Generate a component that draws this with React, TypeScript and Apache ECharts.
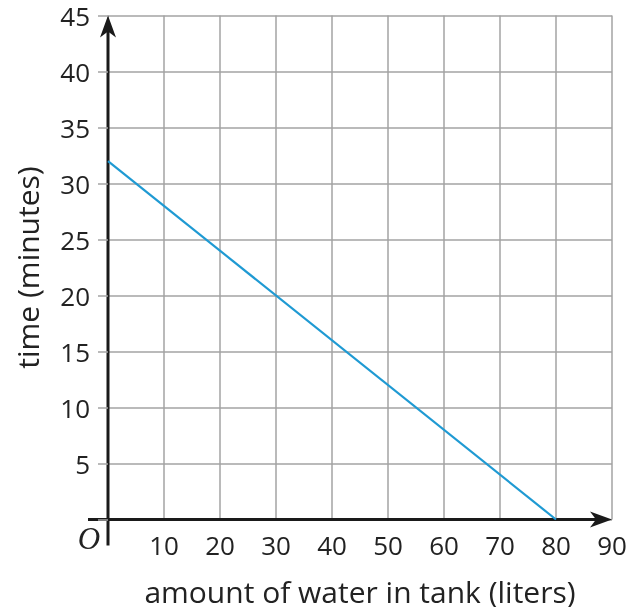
import React, { useEffect, useRef } from "react";
import * as echarts from "echarts";

const xName = "amount of water in tank (liters)";
const yName = "time (minutes)";
const xTicks = [0, 10, 20, 30, 40, 50, 60, 70, 80, 90];
const yTicks = [0, 5, 10, 15, 20, 25, 30, 35, 40, 45];
const waterLiters = [0, 80];
const timeMinutes = [32, 0];

const FONT = "'Open Sans', sans-serif";
const GRID = "#a3a3a3";

export default function App() {
  const ref = useRef<HTMLDivElement>(null);
  useEffect(() => {
    if (!ref.current) return;
    const chart = echarts.init(ref.current, null, { renderer: "svg" });
    const xMax = xTicks[xTicks.length - 1];
    const yMax = yTicks[yTicks.length - 1];
    chart.setOption({
      animation: false,
      grid: {
        left: 108,
        right: 17,
        top: 15.5,
        bottom: 87.5,
        containLabel: false,
        outerBoundsMode: "none",
      },
      xAxis: {
        type: "value",
        min: 0,
        max: xMax,
        interval: 10,
        axisLine: { show: false },
        axisTick: { show: false },
        splitLine: { show: true, lineStyle: { color: GRID, width: 1.5 } },
        axisLabel: {
          margin: 12,
          fontSize: 26,
          lineHeight: 26,
          color: "#222",
          fontFamily: FONT,
          formatter: (v: number) => (v === 0 ? "" : String(v)),
        },
        name: xName,
        nameLocation: "middle",
        nameGap: 57,
        nameTextStyle: { fontSize: 30, lineHeight: 30, color: "#222", fontFamily: FONT },
      },
      yAxis: {
        type: "value",
        min: 0,
        max: yMax,
        interval: 5,
        axisLine: { show: false },
        axisTick: { show: true, length: 10, lineStyle: { color: GRID, width: 1.5 } },
        splitLine: { show: true, lineStyle: { color: GRID, width: 1.5 } },
        axisLabel: {
          margin: 18,
          fontSize: 26,
          lineHeight: 26,
          color: "#222",
          fontFamily: FONT,
          formatter: (v: number) => (v === 0 ? "" : String(v)),
        },
        name: yName,
        nameLocation: "middle",
        nameGap: 66,
        nameTextStyle: { fontSize: 30, lineHeight: 30, color: "#222", fontFamily: FONT },
      },
      series: [
        {
          type: "line",
          data: waterLiters.map((x, i) => [x, timeMinutes[i]]),
          symbol: "none",
          lineStyle: { color: "#1f9ad3", width: 2.2 },
        },
      ],
    });
    const o = chart.convertToPixel({ gridIndex: 0 }, [0, 0]) as number[];
    const xe = chart.convertToPixel({ gridIndex: 0 }, [xMax, 0]) as number[];
    const ye = chart.convertToPixel({ gridIndex: 0 }, [0, yMax]) as number[];
    const ox = o[0], oy = o[1];
    const xTip = xe[0];
    const yTip = ye[1];
    const black = "#1a1a1a";
    chart.setOption({
      graphic: [
        { type: "line", shape: { x1: ox - 20, y1: oy, x2: xTip - 8, y2: oy }, style: { stroke: black, lineWidth: 3 } },
        { type: "line", shape: { x1: ox, y1: oy + 26, x2: ox, y2: yTip + 8 }, style: { stroke: black, lineWidth: 3 } },
        {
          type: "polygon",
          shape: { points: [[xTip, oy], [xTip - 22, oy - 8], [xTip - 16, oy], [xTip - 22, oy + 8]] },
          style: { fill: black },
        },
        {
          type: "polygon",
          shape: { points: [[ox, yTip], [ox - 8, yTip + 22], [ox, yTip + 16], [ox + 8, yTip + 22]] },
          style: { fill: black },
        },
        {
          type: "text",
          x: ox - 19,
          y: oy + 19,
          style: {
            text: "O",
            fontSize: 31,
            fontStyle: "italic",
            fontFamily: "'Liberation Serif', serif",
            fill: "#222",
            align: "center",
            verticalAlign: "middle",
          },
        },
      ],
    });
    return () => chart.dispose();
  }, []);
  return (
    <div
      ref={ref}
      style={{ position: "fixed", left: 0, top: 0, width: 629, height: 607 }}
    />
  );
}
